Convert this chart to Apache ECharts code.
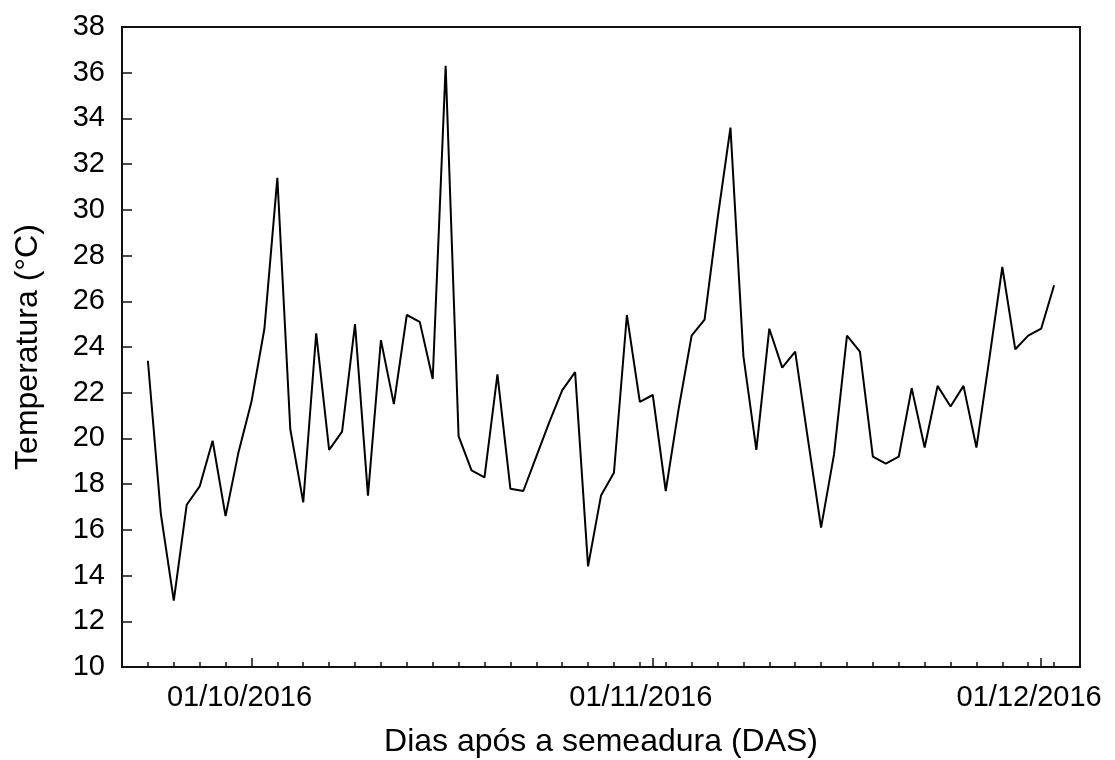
<!DOCTYPE html>
<html><head><meta charset="utf-8">
<script src="https://cdn.jsdelivr.net/npm/echarts@6/dist/echarts.min.js"></script>
<style>html,body{margin:0;padding:0;background:#fff}#c{width:1115px;height:760px}</style>
</head><body><div id="c"></div>
<script>
// Axis range (dates)
const axisStartDate = '2016-09-21';
const axisEndDate = '2016-12-04';
// Daily series starts here
const firstDataDate = '2016-09-23';

// Daily temperature (°C), 23/09/2016 .. 02/12/2016
const tempSeptember = [23.4, 16.7, 12.9, 17.1, 17.9, 19.9, 16.6, 19.4];
const tempOctober = [21.6, 24.8, 31.4, 20.4, 17.2, 24.6, 19.5, 20.3, 25.0, 17.5,
                     24.3, 21.5, 25.4, 25.1, 22.6, 36.3, 20.1, 18.6, 18.3, 22.8,
                     17.8, 17.7, 19.2, 20.7, 22.1, 22.9, 14.4, 17.5, 18.5, 25.4, 21.6];
const tempNovember = [21.9, 17.7, 21.3, 24.5, 25.2, 29.6, 33.6, 23.6, 19.5, 24.8,
                      23.1, 23.8, 19.9, 16.1, 19.3, 24.5, 23.8, 19.2, 18.9, 19.2,
                      22.2, 19.6, 22.3, 21.4, 22.3, 19.6, 23.5, 27.5, 23.9, 24.5];
const tempDecember = [24.8, 26.7];

// Labelled (month) ticks
const monthTickDates = ['2016-10-01', '2016-11-01', '2016-12-01'];
const monthTickLabels = ['01/10/2016', '01/11/2016', '01/12/2016'];

// Y axis
const yMin = 10, yMax = 38, yStep = 2;

const DAY = 86400000;
function utc(s) { const p = s.split('-').map(Number); return Date.UTC(p[0], p[1] - 1, p[2]); }
function dayOf(s) { return Math.round((utc(s) - utc(axisStartDate)) / DAY); }

const temperatures = [].concat(tempSeptember, tempOctober, tempNovember, tempDecember);
const start = dayOf(firstDataDate);
const seriesData = temperatures.map((t, i) => [start + i, t]);
const majorDays = monthTickDates.map(dayOf);
const labelMap = {};
majorDays.forEach((d, i) => { labelMap[d] = monthTickLabels[i]; });

const FONT = '"Liberation Sans", Arial, sans-serif';
const chart = echarts.init(document.getElementById('c'), null, { renderer: 'canvas' });
chart.setOption({
  animation: false,
  backgroundColor: '#fff',
  grid: { left: 122, top: 27, right: 35, bottom: 93, containLabel: false, outerBoundsMode: 'none',
          show: true, borderColor: '#111', borderWidth: 2, backgroundColor: 'transparent' },
  xAxis: [
    {
      type: 'value', min: 0, max: dayOf(axisEndDate), interval: 2,
      axisLine: { show: true, lineStyle: { color: '#111', width: 2 } },
      axisTick: { show: true, inside: true, length: 5, lineStyle: { color: '#111', width: 1.5 } },
      axisLabel: { show: false },
      splitLine: { show: false },
      name: 'Dias após a semeadura (DAS)', nameLocation: 'middle', nameGap: 59,
      nameTextStyle: { fontFamily: FONT, fontSize: 32, color: '#000' }
    },
    {
      type: 'value', min: 0, max: dayOf(axisEndDate), position: 'bottom',
      axisLine: { show: false },
      axisTick: { show: true, inside: true, length: 9, customValues: majorDays, lineStyle: { color: '#111', width: 1.5 } },
      axisLabel: { show: true, customValues: majorDays, margin: 16, fontFamily: FONT, fontSize: 29, color: '#000',
                   padding: [0, 24, 0, 0],
                   formatter: v => labelMap[Math.round(v)] || '' },
      splitLine: { show: false }
    }
  ],
  yAxis: {
    type: 'value', min: yMin, max: yMax, interval: yStep,
    axisLine: { show: true, lineStyle: { color: '#111', width: 2 } },
    axisTick: { show: true, inside: true, length: 10, lineStyle: { color: '#111', width: 1.5 } },
    axisLabel: { margin: 17, fontFamily: FONT, fontSize: 29, color: '#000' },
    splitLine: { show: false },
    name: 'Temperatura (°C)', nameLocation: 'middle', nameGap: 78, nameRotate: 90,
    nameTextStyle: { fontFamily: FONT, fontSize: 32, color: '#000' }
  },
  series: [{
    type: 'line', xAxisIndex: 0, data: seriesData, symbol: 'none',
    lineStyle: { color: '#000', width: 2 }
  }]
});
</script>
</body></html>
